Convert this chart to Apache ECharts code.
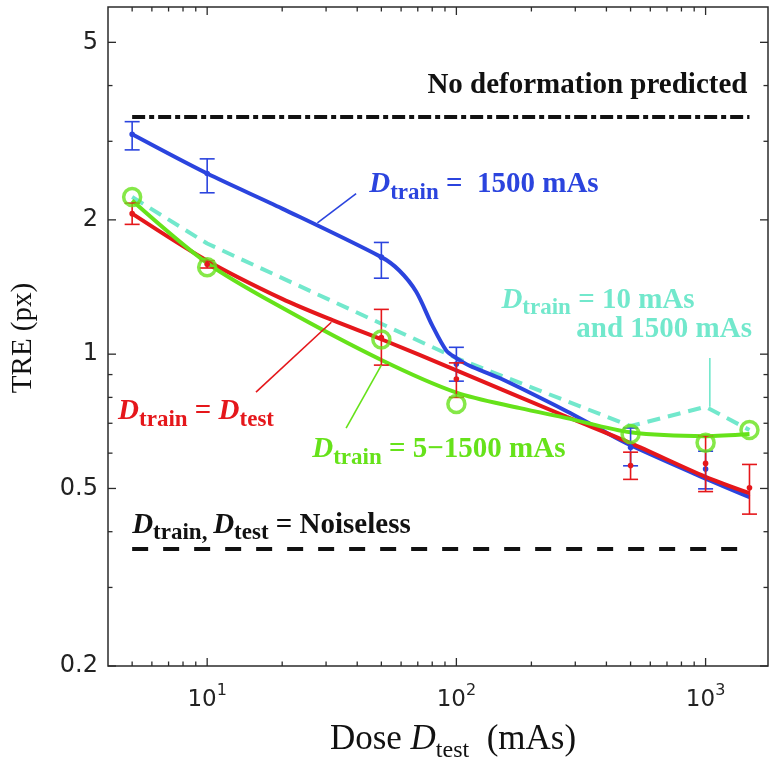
<!DOCTYPE html>
<html>
<head>
<meta charset="utf-8">
<script src="https://cdn.jsdelivr.net/npm/echarts@6/dist/echarts.min.js"></script>
<style>
  html, body { margin: 0; padding: 0; background: #fff; }
  #chart { width: 777px; height: 759px; }
</style>
</head>
<body>
<div id="chart"></div>
<script>
// test doses (mAs)
const dose = [5, 10, 50, 100, 500, 1000, 1500];

// D_train = 1500 mAs : measured TRE with error bars
const blueX = [5, 10, 50, 100, 500, 1000];
const blueY = [3.11, 2.54, 1.65, 0.95, 0.618, 0.553];
const blueLo = [2.87, 2.30, 1.48, 0.87, 0.562, 0.499];
const blueHi = [3.32, 2.74, 1.78, 1.036, 0.683, 0.606];
// fitted curve
const blueCurveX = [5, 10, 20, 50, 59, 69, 80, 91, 100, 113, 149, 277, 375, 500, 1000, 1500];
const blueCurveY = [3.11, 2.54, 2.12, 1.65, 1.54, 1.38, 1.16, 1.02, 0.98, 0.942, 0.884, 0.745, 0.68, 0.625, 0.526, 0.478];

// D_train = D_test
const redY = [2.065, 1.59, 1.09, 0.88, 0.563, 0.569, 0.502];
const redLo = [1.954, 1.56, 0.945, 0.80, 0.524, 0.492, 0.438];
const redHi = [2.18, 1.62, 1.26, 0.956, 0.603, 0.655, 0.566];
const redCurveX = [5, 10, 20, 32, 50, 100, 277, 500, 1000, 1500];
const redCurveY = [2.065, 1.62, 1.33, 1.19, 1.08, 0.92, 0.724, 0.632, 0.531, 0.488];

// D_train = 5-1500 mAs
const greenY = [2.25, 1.567, 1.079, 0.773, 0.662, 0.633, 0.676];
const greenCurveX = [5, 10, 20, 50, 100, 180, 277, 500, 1000, 1500];
const greenCurveY = [2.21, 1.60, 1.27, 0.97, 0.82, 0.757, 0.719, 0.668, 0.655, 0.662];

// D_train = 10 mAs and 1500 mAs
const cyanY = [2.25, 1.77, 1.17, 0.98, 0.69, 0.762, 0.676];

// horizontal references
const refNoDeformation = 3.4;
const refNoiseless = 0.366;

// axis ticks
const xMajorTicks = [10, 100, 1000];
const xTickExponents = ['1', '2', '3'];
const xMinorTicks = [5, 6, 7, 8, 9, 20, 30, 40, 50, 60, 70, 80, 90, 200, 300, 400, 500, 600, 700, 800, 900];
const yMajorTicks = [0.2, 0.5, 1, 2, 5];
const yTickLabels = ['0.2', '0.5', '1', '2', '5'];
const yMinorTicks = [0.3, 0.4, 0.6, 0.7, 0.8, 0.9, 3, 4];

const BLUE = '#2b44de';
const RED = '#e5171b';
const GREEN = '#66e21a';
const CYAN = '#72e8cc';
const BLACK = '#111111';
const AXIS = '#2b2b2b';
const SERIF = '"Liberation Serif"';
const SANS = '"DejaVu Sans"';

const pairs = (xs, ys) => xs.map((x, i) => [x, ys[i]]);

// text with italic / subscript pieces, laid out with measured widths
const measureCtx = document.createElement('canvas').getContext('2d');
function textRun(parts, x, y, opt) {
  const items = parts.map(p => {
    const size = p.s ? opt.subSize : opt.size;
    const font = (p.i ? 'italic ' : '') + opt.weight + ' ' + size + 'px ' + opt.family;
    measureCtx.font = font;
    return { p, size, font, w: measureCtx.measureText(p.t).width };
  });
  const total = items.reduce((a, b) => a + b.w, 0);
  let cx = opt.align === 'center' ? x - total / 2 : opt.align === 'right' ? x - total : x;
  const base = y + 0.34 * opt.size;
  return items.map(it => {
    const by = base + (it.p.s ? opt.subDy : 0) - (it.p.sup ? opt.supDy : 0);
    const el = {
      type: 'text', x: cx, y: by - 0.34 * it.size,
      style: {
        text: it.p.t, font: it.font, fill: opt.color,
        align: 'left', textAlign: 'left', verticalAlign: 'middle', textVerticalAlign: 'middle'
      }
    };
    cx += it.w;
    return el;
  });
}

const annFont = { size: 29, subSize: 23, subDy: 6, family: SERIF, weight: 'bold', align: 'left' };
const D = (sub) => [{ t: 'D', i: 1 }, { t: sub, s: 1 }];
const annotations = [
  { color: BLUE, at: [44.7, 2.40], parts: D('train').concat([{ t: ' =  1500 mAs' }]), leader: [[39.6, 2.29], [27.7, 1.97]] },
  { color: CYAN, at: [151.6, 1.32], parts: D('train').concat([{ t: ' = 10 mAs' }]) },
  { color: CYAN, at: [303, 1.137], parts: [{ t: 'and 1500 mAs' }], leader: [[1040, 0.98], [1040, 0.762]] },
  { color: RED, at: [4.39, 0.742], parts: D('train').concat([{ t: ' = ' }], D('test')), leader: [[15.7, 0.822], [31.5, 1.179]] },
  { color: GREEN, at: [26.4, 0.610], parts: D('train').concat([{ t: ' = 5\u22121500 mAs' }]), leader: [[36.1, 0.683], [50, 0.945]] },
  { color: BLACK, at: [5, 0.414], parts: D('train').concat([{ t: ', ', s: 1 }], D('test'), [{ t: ' = Noiseless' }]) },
  { color: BLACK, at: [76.5, 4.0], parts: [{ t: 'No deformation predicted' }] }
];

function errorBarSeries(xs, ys, lo, hi, color, z) {
  return {
    type: 'custom', z: z, silent: true,
    data: xs.map((x, i) => [x, ys[i], lo[i], hi[i]]),
    encode: { x: 0, y: [1, 2, 3] },
    renderItem: (params, api) => {
      const x = api.value(0);
      const p = api.coord([x, api.value(1)]);
      const l = api.coord([x, api.value(2)]);
      const h = api.coord([x, api.value(3)]);
      const cap = 7.5;
      const st = { stroke: color, lineWidth: 1.6 };
      return {
        type: 'group', children: [
          { type: 'line', shape: { x1: p[0], y1: l[1], x2: p[0], y2: h[1] }, style: st },
          { type: 'line', shape: { x1: p[0] - cap, y1: l[1], x2: p[0] + cap, y2: l[1] }, style: st },
          { type: 'line', shape: { x1: p[0] - cap, y1: h[1], x2: p[0] + cap, y2: h[1] }, style: st },
          { type: 'circle', shape: { cx: p[0], cy: p[1], r: 2.8 }, style: { fill: color } }
        ]
      };
    }
  };
}

function curve(data, color, z, extra) {
  return Object.assign({
    type: 'line', data: data, z: z, silent: true, showSymbol: false, symbol: 'none',
    lineStyle: { color: color, width: 4 }, itemStyle: { color: color }
  }, extra || {});
}

const chart = echarts.init(document.getElementById('chart'), null, { renderer: 'canvas' });

const option = {
  animation: false,
  backgroundColor: '#ffffff',
  tooltip: { show: false },
  grid: {
    left: 108, top: 7, right: 9, bottom: 93,
    show: true, borderColor: AXIS, borderWidth: 1.5, backgroundColor: 'transparent',
    containLabel: false, outerBoundsMode: 'none'
  },
  xAxis: {
    type: 'log', logBase: 10, min: 4, max: 1780,
    axisLine: { show: false }, axisTick: { show: false }, axisLabel: { show: false },
    splitLine: { show: false }, minorTick: { show: false }, minorSplitLine: { show: false }
  },
  yAxis: {
    type: 'log', logBase: 10, min: 0.2, max: 6,
    axisLine: { show: false }, axisTick: { show: false }, axisLabel: { show: false },
    splitLine: { show: false }, minorTick: { show: false }, minorSplitLine: { show: false }
  },
  graphic: [
    {
      type: 'text', x: 23, y: 338, rotation: Math.PI / 2,
      style: {
        text: 'TRE (px)', font: '29px ' + SERIF, fill: BLACK,
        align: 'center', textAlign: 'center', verticalAlign: 'middle', textVerticalAlign: 'middle'
      }
    },
    {
      type: 'group', children: textRun(
        [{ t: 'Dose ' }, { t: 'D', i: 1 }, { t: 'test', s: 1 }, { t: '  (mAs)' }],
        453, 740, { size: 35, subSize: 24, subDy: 7, family: SERIF, weight: 'normal', align: 'center', color: BLACK })
    }
  ],
  series: [
    curve([[dose[0], refNoDeformation], [dose[dose.length - 1], refNoDeformation]], BLACK, 3,
      { lineStyle: { color: BLACK, width: 4, type: [13, 4, 5, 4] } }),
    curve([[dose[0], refNoiseless], [dose[dose.length - 1], refNoiseless]], BLACK, 3,
      { lineStyle: { color: BLACK, width: 4, type: [16, 15] } }),
    curve(pairs(dose, cyanY), CYAN, 3, { lineStyle: { color: CYAN, width: 4, type: [13, 8] } }),
    curve(pairs(blueCurveX, blueCurveY), BLUE, 4, { smooth: 0.3 }),
    curve(pairs(redCurveX, redCurveY), RED, 5, { smooth: 0.3 }),
    curve(pairs(greenCurveX, greenCurveY), GREEN, 6, { smooth: 0.3 }),
    errorBarSeries(blueX, blueY, blueLo, blueHi, BLUE, 7),
    errorBarSeries(dose, redY, redLo, redHi, RED, 7),
    {
      type: 'scatter', z: 8, silent: true, data: pairs(dose, greenY),
      symbol: 'circle', symbolSize: 17,
      itemStyle: { color: 'rgba(0,0,0,0)', borderColor: GREEN, borderWidth: 3.5 }
    },
    {
      // x ticks (bottom and top) and labels
      type: 'custom', z: 10, silent: true,
      data: xMajorTicks.map(v => [v, 1, 1]).concat(xMinorTicks.map(v => [v, 1, 0])),
      encode: { x: 0, y: 1 },
      renderItem: (params, api) => {
        const cs = params.coordSys;
        const v = api.value(0);
        const major = api.value(2) === 1;
        const px = api.coord([v, 1])[0];
        const len = major ? 8 : 4.5;
        const st = { stroke: AXIS, lineWidth: 1.3 };
        const bottom = cs.y + cs.height;
        const children = [
          { type: 'line', shape: { x1: px, y1: bottom, x2: px, y2: bottom - len }, style: st },
          { type: 'line', shape: { x1: px, y1: cs.y, x2: px, y2: cs.y + len }, style: st }
        ];
        if (major) {
          const exp = xTickExponents[xMajorTicks.indexOf(v)];
          children.push.apply(children, textRun([{ t: '10' }, { t: exp, sup: 1, s: 1 }], px, bottom + 34,
            { size: 23, subSize: 16, subDy: 0, supDy: 12, family: SANS, weight: 'normal', align: 'center', color: '#222' }));
        }
        return { type: 'group', children: children };
      }
    },
    {
      // y ticks (left and right) and labels
      type: 'custom', z: 10, silent: true,
      data: yMajorTicks.map(v => [10, v, 1]).concat(yMinorTicks.map(v => [10, v, 0])),
      encode: { x: 0, y: 1 },
      renderItem: (params, api) => {
        const cs = params.coordSys;
        const v = api.value(1);
        const major = api.value(2) === 1;
        const py = api.coord([10, v])[1];
        const len = major ? 8 : 4.5;
        const st = { stroke: AXIS, lineWidth: 1.3 };
        const right = cs.x + cs.width;
        const children = [
          { type: 'line', shape: { x1: cs.x, y1: py, x2: cs.x + len, y2: py }, style: st },
          { type: 'line', shape: { x1: right, y1: py, x2: right - len, y2: py }, style: st }
        ];
        if (major) {
          children.push({
            type: 'text', x: cs.x - 10, y: py,
            style: {
              text: yTickLabels[yMajorTicks.indexOf(v)], font: '24px ' + SANS, fill: '#222',
              align: 'right', textAlign: 'right', verticalAlign: 'middle', textVerticalAlign: 'middle'
            }
          });
        }
        return { type: 'group', children: children };
      }
    },
    {
      // text annotations with leader lines
      type: 'custom', z: 9, silent: true,
      data: annotations.map(a => a.at),
      encode: { x: 0, y: 1 },
      renderItem: (params, api) => {
        const a = annotations[params.dataIndex];
        const p = api.coord(a.at);
        const children = textRun(a.parts, p[0], p[1], Object.assign({}, annFont, { color: a.color }));
        if (a.leader) {
          const p1 = api.coord(a.leader[0]);
          const p2 = api.coord(a.leader[1]);
          children.push({
            type: 'line', shape: { x1: p1[0], y1: p1[1], x2: p2[0], y2: p2[1] },
            style: { stroke: a.color, lineWidth: 1.6 }
          });
        }
        return { type: 'group', children: children };
      }
    }
  ]
};

chart.setOption(option);
</script>
</body>
</html>
